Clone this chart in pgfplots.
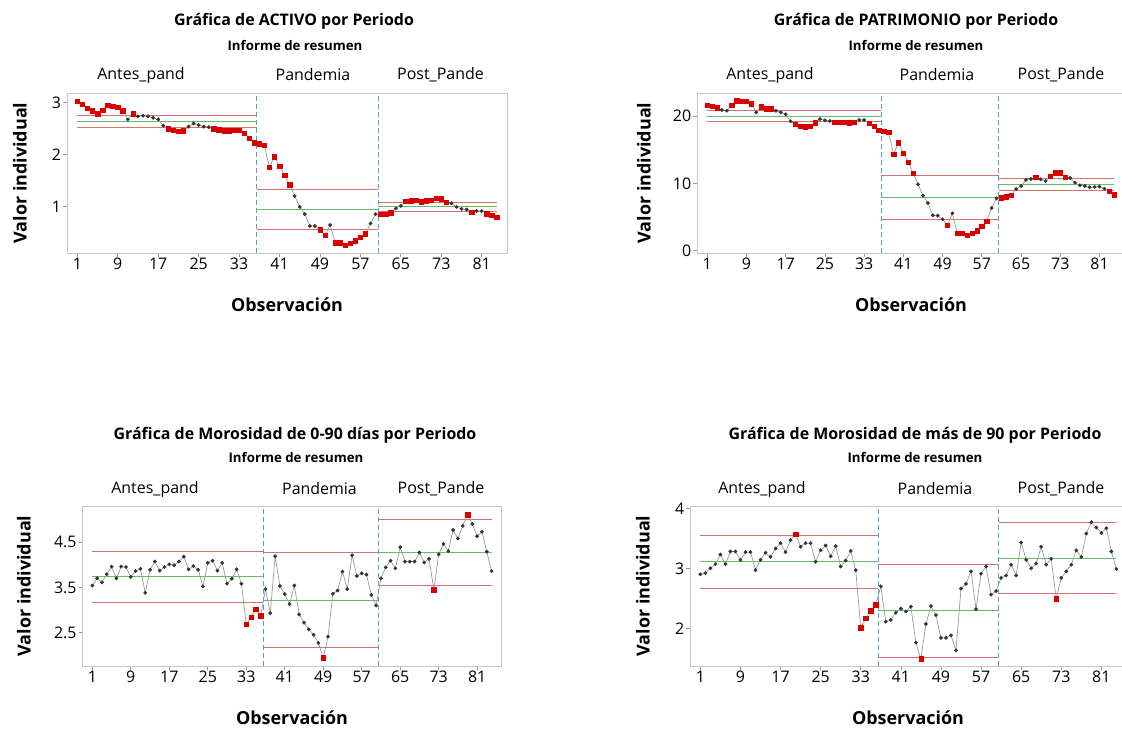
\documentclass[border=0pt]{standalone}
\usepackage{pgfplots}
\pgfplotsset{compat=1.18}
\usepackage{pgfplotstable}
\usepackage{fontspec}
\setmainfont{Open Sans}
\definecolor{ptred}{HTML}{D90000}
\definecolor{lim}{HTML}{D47272}
\definecolor{cen}{HTML}{66BC66}
\definecolor{dsh}{HTML}{5B9BD5}
\definecolor{dot}{HTML}{333333}
\definecolor{ln}{HTML}{9A9A9A}

\pgfplotstableread{
x y c
1 3.03 1
2 2.97 1
3 2.90 1
4 2.85 1
5 2.79 1
6 2.86 1
7 2.95 1
8 2.93 1
9 2.92 1
10 2.85 1
11 2.68 0
12 2.79 1
13 2.74 0
14 2.75 0
15 2.74 0
16 2.71 0
17 2.68 0
18 2.56 0
19 2.50 1
20 2.47 1
21 2.45 1
22 2.46 1
23 2.54 0
24 2.60 0
25 2.57 0
26 2.54 0
27 2.53 0
28 2.50 1
29 2.48 1
30 2.46 1
31 2.46 1
32 2.47 1
33 2.47 1
34 2.41 1
35 2.32 1
36 2.23 1
37 2.21 1
38 2.18 1
39 1.76 1
40 1.96 1
41 1.78 1
42 1.60 1
43 1.42 1
44 1.20 0
45 0.99 0
46 0.85 0
47 0.62 0
48 0.62 0
49 0.55 1
50 0.44 1
51 0.64 0
52 0.30 1
53 0.30 1
54 0.25 1
55 0.29 1
56 0.34 1
57 0.40 1
58 0.47 1
59 0.67 0
60 0.85 0
61 0.85 1
62 0.85 1
63 0.88 1
64 0.96 0
65 1.01 0
66 1.10 1
67 1.11 1
68 1.12 1
69 1.09 1
70 1.11 1
71 1.12 1
72 1.16 1
73 1.15 1
74 1.08 1
75 1.06 0
76 0.99 0
77 0.95 0
78 0.94 0
79 0.89 1
80 0.91 0
81 0.91 0
82 0.86 1
83 0.83 1
84 0.79 1
}\tA

\pgfplotstableread{
x y c
1 21.58 1
2 21.44 1
3 21.24 1
4 20.89 0
5 20.79 0
6 21.58 1
7 22.28 1
8 22.23 1
9 22.18 1
10 21.83 1
11 20.54 0
12 21.39 1
13 21.09 1
14 21.09 1
15 20.79 0
16 20.54 0
17 20.25 0
18 19.21 0
19 18.76 1
20 18.51 1
21 18.42 1
22 18.47 1
23 19.01 1
24 19.55 0
25 19.36 0
26 19.26 0
27 19.08 1
28 19.06 1
29 19.04 1
30 19.02 1
31 19.08 1
32 19.41 0
33 19.41 0
34 18.96 1
35 18.51 1
36 17.92 1
37 17.77 1
38 17.57 1
39 14.31 1
40 16.04 1
41 14.46 1
42 13.17 1
43 11.49 1
44 9.85 0
45 8.17 0
46 7.08 0
47 5.25 0
48 5.20 0
49 4.65 0
50 3.76 1
51 5.54 0
52 2.57 1
53 2.57 1
54 2.28 1
55 2.62 1
56 2.97 1
57 3.66 1
58 4.41 1
59 6.34 0
60 7.77 0
61 7.87 1
62 8.02 1
63 8.27 1
64 9.16 0
65 9.60 0
66 10.50 0
67 10.64 0
68 10.89 1
69 10.59 0
70 10.35 0
71 11.09 1
72 11.58 1
73 11.58 1
74 10.89 1
75 10.79 0
76 10.10 0
77 9.70 0
78 9.60 0
79 9.41 0
80 9.46 0
81 9.50 0
82 9.21 0
83 8.81 1
84 8.32 1
}\tB

\pgfplotstableread{
x y c
1 3.54 0
2 3.70 0
3 3.61 0
4 3.79 0
5 3.96 0
6 3.70 0
7 3.96 0
8 3.95 0
9 3.73 0
10 3.86 0
11 3.91 0
12 3.38 0
13 3.89 0
14 4.07 0
15 3.87 0
16 3.95 0
17 4.01 0
18 3.99 0
19 4.07 0
20 4.18 0
21 3.90 0
22 3.97 0
23 3.89 0
24 3.52 0
25 4.04 0
26 4.09 0
27 3.87 0
28 4.04 0
29 3.58 0
30 3.69 0
31 3.90 0
32 3.58 0
33 2.68 1
34 2.84 1
35 3.01 1
36 2.87 1
37 3.46 0
38 2.93 0
39 4.19 0
40 3.53 0
41 3.35 0
42 3.13 0
43 3.54 0
44 2.90 0
45 2.72 0
46 2.57 0
47 2.45 0
48 2.27 0
49 1.94 1
50 2.41 0
51 3.36 0
52 3.43 0
53 3.85 0
54 3.46 0
55 4.21 0
56 3.75 0
57 3.81 0
58 3.78 0
59 3.33 0
60 3.10 0
61 3.70 0
62 3.94 0
63 4.09 0
64 3.92 0
65 4.39 0
66 4.07 0
67 4.07 0
68 4.07 0
69 4.27 0
70 4.05 0
71 4.13 0
72 3.45 1
73 4.23 0
74 4.46 0
75 4.30 0
76 4.77 0
77 4.58 0
78 4.86 0
79 5.11 1
80 4.90 0
81 4.63 0
82 4.73 0
83 4.29 0
84 3.86 0
}\tC

\pgfplotstableread{
x y c
1 2.90 0
2 2.92 0
3 3.00 0
4 3.07 0
5 3.23 0
6 3.07 0
7 3.28 0
8 3.28 0
9 3.14 0
10 3.27 0
11 3.27 0
12 2.97 0
13 3.14 0
14 3.26 0
15 3.19 0
16 3.33 0
17 3.42 0
18 3.27 0
19 3.47 0
20 3.57 1
21 3.36 0
22 3.42 0
23 3.42 0
24 3.11 0
25 3.30 0
26 3.38 0
27 3.20 0
28 3.37 0
29 3.03 0
30 3.13 0
31 3.29 0
32 2.97 0
33 2.01 1
34 2.17 1
35 2.29 1
36 2.39 1
37 2.70 0
38 2.11 0
39 2.14 0
40 2.26 0
41 2.33 0
42 2.28 0
43 2.36 0
44 1.76 0
45 1.49 1
46 2.07 0
47 2.37 0
48 2.22 0
49 1.84 0
50 1.84 0
51 1.88 0
52 1.63 0
53 2.66 0
54 2.74 0
55 2.95 0
56 2.32 0
57 2.91 0
58 3.03 0
59 2.56 0
60 2.62 0
61 2.84 0
62 2.88 0
63 3.06 0
64 2.88 0
65 3.43 0
66 3.14 0
67 3.00 0
68 3.08 0
69 3.36 0
70 3.06 0
71 3.16 0
72 2.49 1
73 2.84 0
74 2.95 0
75 3.06 0
76 3.30 0
77 3.19 0
78 3.58 0
79 3.77 0
80 3.68 0
81 3.59 0
82 3.67 0
83 3.28 0
84 2.99 0
}\tD

\pgfplotsset{
  cc/.style={
    scale only axis, height=160bp, anchor=south west,
    xmin=-1, xmax=86, xtick={1,9,...,81},
    axis line style={draw=black!22, line width=0.8bp},
    tick style={draw=black!40, line width=0.7bp},
    tick align=outside, major tick length=4bp,
    xtick pos=bottom, ytick pos=left,
    tick label style={font=\fontsize{16}{16}\selectfont, text=black},
    xticklabel style={inner sep=1bp},
    yticklabel style={inner sep=2bp},
    /pgf/number format/assume math mode=true,
    clip=false,
  },
  limL/.style={draw=lim, line width=1.0bp, forget plot},
  cenL/.style={draw=cen, line width=1.0bp, forget plot},
  dshL/.style={draw=dsh, line width=1bp, dash pattern=on 5bp off 3bp, forget plot},
  dataL/.style={draw=ln, line width=0.7bp, mark=none},
  pts/.style={scatter, only marks, scatter src=explicit symbolic,
    scatter/classes={
      0={mark=*, draw=dot, fill=dot, mark size=1.7bp},
      1={mark=square*, draw=ptred, fill=ptred, mark size=2.2bp}}},
}

\begin{document}
\begin{tikzpicture}[x=1bp,y=1bp]
% ---------- Panel 1: ACTIVO
\begin{axis}[cc, at={(67.2bp,476bp)}, width=439.8bp, ymin=0.10, ymax=3.19, ytick={1,2,3}]
\addplot[limL] coordinates {(1,2.76) (36.5,2.76)};
\addplot[limL] coordinates {(1,2.52) (36.5,2.52)};
\addplot[cenL] coordinates {(1,2.63) (36.5,2.63)};
\addplot[limL] coordinates {(36.5,1.33) (60.5,1.33)};
\addplot[limL] coordinates {(36.5,0.56) (60.5,0.56)};
\addplot[cenL] coordinates {(36.5,0.94) (60.5,0.94)};
\addplot[limL] coordinates {(60.5,1.07) (84,1.07)};
\addplot[limL] coordinates {(60.5,0.90) (84,0.90)};
\addplot[cenL] coordinates {(60.5,0.99) (84,0.99)};
\addplot[dshL] coordinates {(36.5,0.10) (36.5,3.19)};
\addplot[dshL] coordinates {(60.5,0.10) (60.5,3.19)};
\addplot[dataL] table[x=x,y=y] {\tA};
\addplot[pts] table[x=x,y=y,meta=c] {\tA};
\end{axis}
% ---------- Panel 2: PATRIMONIO
\begin{axis}[cc, at={(697.4bp,476bp)}, width=426.6bp, ymin=-0.35, ymax=23.42, ytick={0,10,20}]
\addplot[limL] coordinates {(1,20.84) (36.5,20.84)};
\addplot[limL] coordinates {(1,19.11) (36.5,19.11)};
\addplot[cenL] coordinates {(1,20.0) (36.5,20.0)};
\addplot[limL] coordinates {(36.5,11.09) (60.5,11.09)};
\addplot[limL] coordinates {(36.5,4.60) (60.5,4.60)};
\addplot[cenL] coordinates {(36.5,7.82) (60.5,7.82)};
\addplot[limL] coordinates {(60.5,10.69) (84,10.69)};
\addplot[limL] coordinates {(60.5,8.86) (84,8.86)};
\addplot[cenL] coordinates {(60.5,9.80) (84,9.80)};
\addplot[dshL] coordinates {(36.5,-0.35) (36.5,23.42)};
\addplot[dshL] coordinates {(60.5,-0.35) (60.5,23.42)};
\addplot[dataL] table[x=x,y=y] {\tB};
\addplot[pts] table[x=x,y=y,meta=c] {\tB};
\end{axis}
% ---------- Panel 3: Morosidad 0-90
\begin{axis}[cc, at={(82.7bp,63bp)}, width=418.5bp, ymin=1.76, ymax=5.30, ytick={2.5,3.5,4.5}]
\addplot[limL] coordinates {(1,4.30) (36.5,4.30)};
\addplot[limL] coordinates {(1,3.16) (36.5,3.16)};
\addplot[cenL] coordinates {(1,3.73) (36.5,3.73)};
\addplot[limL] coordinates {(36.5,4.27) (60.5,4.27)};
\addplot[limL] coordinates {(36.5,2.18) (60.5,2.18)};
\addplot[cenL] coordinates {(36.5,3.22) (60.5,3.22)};
\addplot[limL] coordinates {(60.5,5.00) (84,5.00)};
\addplot[limL] coordinates {(60.5,3.55) (84,3.55)};
\addplot[cenL] coordinates {(60.5,4.28) (84,4.28)};
\addplot[dshL] coordinates {(36.5,1.76) (36.5,5.30)};
\addplot[dshL] coordinates {(60.5,1.76) (60.5,5.30)};
\addplot[dataL] table[x=x,y=y] {\tC};
\addplot[pts] table[x=x,y=y,meta=c] {\tC};
\end{axis}
% ---------- Panel 4: Morosidad > 90
\begin{axis}[cc, at={(690.3bp,63bp)}, width=436.1bp, ymin=1.37, ymax=4.04, ytick={2,3,4}]
\addplot[limL] coordinates {(1,3.54) (36.5,3.54)};
\addplot[limL] coordinates {(1,2.66) (36.5,2.66)};
\addplot[cenL] coordinates {(1,3.11) (36.5,3.11)};
\addplot[limL] coordinates {(36.5,3.07) (60.5,3.07)};
\addplot[limL] coordinates {(36.5,1.51) (60.5,1.51)};
\addplot[cenL] coordinates {(36.5,2.29) (60.5,2.29)};
\addplot[limL] coordinates {(60.5,3.77) (84,3.77)};
\addplot[limL] coordinates {(60.5,2.58) (84,2.58)};
\addplot[cenL] coordinates {(60.5,3.17) (84,3.17)};
\addplot[dshL] coordinates {(36.5,1.37) (36.5,4.04)};
\addplot[dshL] coordinates {(60.5,1.37) (60.5,4.04)};
\addplot[dataL] table[x=x,y=y] {\tD};
\addplot[pts] table[x=x,y=y,meta=c] {\tD};
\end{axis}

% ---------- texts
\tikzset{ttl/.style={font=\fontsize{16}{18}\selectfont\bfseries, inner sep=0pt},
  sub/.style={font=\fontsize{13.3}{15}\selectfont\bfseries, inner sep=0pt},
  stg/.style={font=\fontsize{16}{18}\selectfont, inner sep=0pt},
  axl/.style={font=\fontsize{18}{20}\selectfont\bfseries, inner sep=0pt}}
% panel 1
\node[ttl] at (294,707.3) {Gráfica de ACTIVO por Periodo};
\node[sub] at (295,683.3) {Informe de resumen};
\node[stg] at (141,654) {Antes\_pand};
\node[stg] at (313,654) {Pandemia};
\node[stg] at (440.5,654) {Post\_Pande};
\node[axl] at (287,424) {Observación};
\node[axl, rotate=90] at (20,556) {Valor individual};
% panel 2
\node[ttl] at (916,707.3) {Gráfica de PATRIMONIO por Periodo};
\node[sub] at (916,683.3) {Informe de resumen};
\node[stg] at (770,654) {Antes\_pand};
\node[stg] at (937,654) {Pandemia};
\node[stg] at (1061,654) {Post\_Pande};
\node[axl] at (911,424) {Observación};
\node[axl, rotate=90] at (644,556) {Valor individual};
% panel 3
\node[ttl] at (295,294) {Gráfica de Morosidad de 0-90 días por Periodo};
\node[sub] at (296,271) {Informe de resumen};
\node[stg] at (155,240) {Antes\_pand};
\node[stg] at (319.5,240) {Pandemia};
\node[stg] at (441,240) {Post\_Pande};
\node[axl] at (292,11) {Observación};
\node[axl, rotate=90] at (24,143) {Valor individual};
% panel 4
\node[ttl] at (915,294) {Gráfica de Morosidad de más de 90 por Periodo};
\node[sub] at (915,271) {Informe de resumen};
\node[stg] at (762,240) {Antes\_pand};
\node[stg] at (935,240) {Pandemia};
\node[stg] at (1061,240) {Post\_Pande};
\node[axl] at (908,11) {Observación};
\node[axl, rotate=90] at (643,143) {Valor individual};

\pgfresetboundingbox
\path[use as bounding box] (0,0) rectangle (1122,729);
\end{tikzpicture}
\end{document}
